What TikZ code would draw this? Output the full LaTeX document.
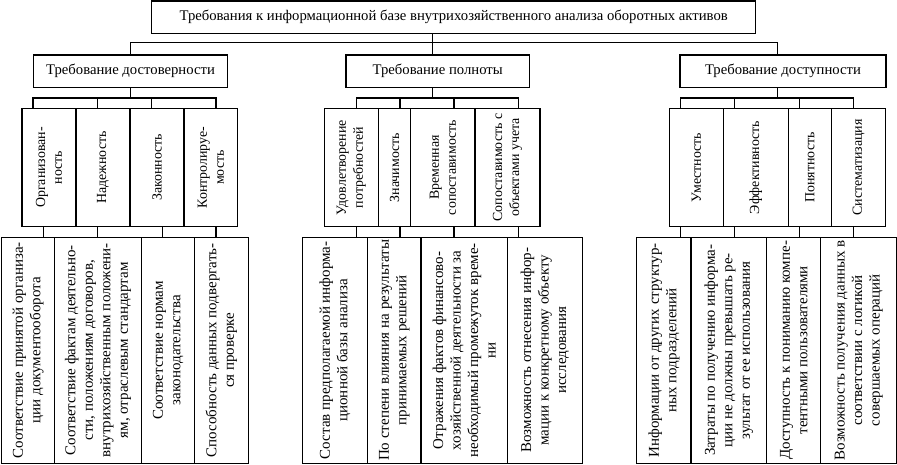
\documentclass[tikz,border=0pt]{standalone}
\usepackage{fontspec}
\setmainfont{Liberation Serif}
\usepackage{graphicx}
\newcommand{\vtext}[2]{\rotatebox{90}{\parbox{#1}{\centering #2}}}

\begin{document}
\begin{tikzpicture}[x=1pt, y=-1pt, font=\fontsize{14.7}{17.5}\selectfont,
    link/.style={line width=1.4pt},
    hbox/.style={draw, line width=1.4pt, inner sep=0pt, minimum height=32.3pt},
    midbox/.style={draw, line width=1.4pt, inner sep=0pt, minimum height=118.4pt,
                   font=\fontsize{13.9}{16.8}\selectfont},
    lowbox/.style={draw, line width=1.4pt, inner sep=0pt, minimum height=226pt,
                   font=\fontsize{15}{17.5}\selectfont}]
  \useasboundingbox (0,0) rectangle (897,465);

  \node[hbox, minimum width=604pt] (top) at (453.7,17.2)
    {Требования к информационной базе внутрихозяйственного анализа оборотных активов};
  \node[hbox, minimum width=194.4pt] (p1) at (130.5,71.2) {Требование достоверности};
  \node[hbox, minimum width=183.3pt] (p2) at (437.7,71.2) {Требование полноты};
  \node[hbox, minimum width=206pt] (p3) at (783,71.2) {Требование доступности};

  % second row of properties
  \node[midbox, minimum width=54pt] (o1) at (49,167.5) {\vtext{118pt}{Организован-\\ность}};
  \node[midbox, minimum width=54pt] (o2) at (103,167.5) {\vtext{118pt}{Надежность}};
  \node[midbox, minimum width=54pt] (o3) at (157,167.5) {\vtext{118pt}{Законность}};
  \node[midbox, minimum width=53.7pt] (o4) at (210.9,167.5) {\vtext{118pt}{Контролируе-\\мость}};
  \node[midbox, minimum width=54pt] (o5) at (351.3,167.5) {\vtext{118pt}{Удовлетворение\\потребностей}};
  \node[midbox, minimum width=32.4pt] (o6) at (394.5,167.5) {\vtext{118pt}{Значимость}};
  \node[midbox, minimum width=64.3pt] (o7) at (442.9,167.5) {\vtext{118pt}{Временная\\сопоставимость}};
  \node[midbox, minimum width=65pt] (o8) at (507.5,167.5) {\vtext{118pt}{Сопоставимость с\\объектами учета}};
  \node[midbox, minimum width=54pt] (o9) at (696.3,167.5) {\vtext{118pt}{Уместность}};
  \node[midbox, minimum width=65pt] (o10) at (755.8,167.5) {\vtext{118pt}{Эффективность}};
  \node[midbox, minimum width=43.4pt] (o11) at (810,167.5) {\vtext{118pt}{Понятность}};
  \node[midbox, minimum width=54pt] (o12) at (858.7,167.5) {\vtext{118pt}{Систематизация}};

  % bottom row
  \node[lowbox, minimum width=52.6pt] (d1) at (28,350.3)
    {\vtext{226pt}{Соответствие принятой организа-\\ции документооборота}};
  \node[lowbox, minimum width=87.4pt] (d2) at (98,350.3)
    {\vtext{226pt}{Соответствие фактам деятельно-\\сти, положениям договоров,\\внутрихозяйственным положени-\\ям, отраслевым стандартам}};
  \node[lowbox, minimum width=52.6pt] (d3) at (168,350.3)
    {\vtext{226pt}{Соответствие нормам\\законодательства}};
  \node[lowbox, minimum width=54pt] (d4) at (221.3,350.3)
    {\vtext{226pt}{Способность данных подвергать-\\ся проверке}};
  \node[lowbox, minimum width=65pt] (d5) at (334.8,350.3)
    {\vtext{226pt}{Состав предполагаемой информа-\\ционной базы анализа}};
  \node[lowbox, minimum width=53.7pt] (d6) at (394.2,350.3)
    {\vtext{226pt}{По степени влияния на результаты\\принимаемых решений}};
  \node[lowbox, minimum width=86.3pt] (d7) at (464.2,350.3)
    {\vtext{226pt}{Отражения фактов финансово-\\хозяйственной деятельности за\\необходимый промежуток време-\\ни}};
  \node[lowbox, minimum width=75pt] (d8) at (544.8,350.3)
    {\vtext{226pt}{Возможность отнесения инфор-\\мации к конкретному объекту\\исследования}};
  \node[lowbox, minimum width=54.3pt] (d9) at (663.9,350.3)
    {\vtext{226pt}{Информации от других структур-\\ных подразделений}};
  \node[lowbox, minimum width=75.7pt] (d10) at (728.9,350.3)
    {\vtext{226pt}{Затраты по получению информа-\\ции не должны превышать ре-\\зультат от ее использования}};
  \node[lowbox, minimum width=54pt] (d11) at (793.7,350.3)
    {\vtext{226pt}{Доступность к пониманию компе-\\тентными пользователями}};
  \node[lowbox, minimum width=76pt] (d12) at (858.7,350.3)
    {\vtext{226pt}{Возможность получения данных в\\соответствии с логикой\\совершаемых операций}};

  % top links
  \draw[link] ([xshift=-5pt]p2.north) -- ++(0,-11.7) coordinate (b0);
  \draw[link] (b0) -- ([xshift=-21pt]top.south);
  \draw[link] (p1.north) |- (b0) -| ([xshift=-5.3pt]p3.north);

  % buses under the three requirements
  \draw[link] (p1.south) -- ++(0,10) coordinate (b1);
  \draw[link] ([xshift=-16pt]o1.north) |- (b1) -| ([xshift=5.1pt]o4.north);
  \draw[link] ([xshift=-5.3pt]o2.north) -- ++(0,-11);
  \draw[link] ([xshift=-5.3pt]o3.north) -- ++(0,-11);
  \draw[link] ([xshift=-5pt]p2.south) -- ++(0,10) coordinate (b2);
  \draw[link] ([xshift=5.4pt]o5.north) |- (b2) -| ([xshift=10.8pt]o8.north);
  \draw[link] ([xshift=5.5pt]o6.north) -- ++(0,-11);
  \draw[link] ([xshift=11.1pt]o7.north) -- ++(0,-11);
  \draw[link] ([xshift=-5.3pt]p3.south) -- ++(0,10) coordinate (b3);
  \draw[link] ([xshift=-15.6pt]o9.north) |- (b3) -| ([xshift=-5.4pt]o12.north);
  \draw[link] ([xshift=-21.1pt]o10.north) -- ++(0,-11);
  \draw[link] ([xshift=-10.7pt]o11.north) -- ++(0,-11);

  % property to content
  \draw[link] ([xshift=-5.7pt]o1.south) -- ([xshift=15.3pt]d1.north);
  \draw[link] ([xshift=-5.3pt]o2.south) -- ([xshift=-0.3pt]d2.north);
  \draw[link] ([xshift=5.3pt]o3.south) -- ([xshift=-5.7pt]d3.north);
  \draw[link] ([xshift=5.1pt]o4.south) -- ([xshift=-5.3pt]d4.north);
  \draw[link] ([xshift=5.4pt]o5.south) -- ([xshift=21.9pt]d5.north);
  \draw[link] ([xshift=5.5pt]o6.south) -- ([xshift=5.8pt]d6.north);
  \draw[link] ([xshift=11.1pt]o7.south) -- ([xshift=-10.2pt]d7.north);
  \draw[link] ([xshift=10.8pt]o8.south) -- ([xshift=-26.5pt]d8.north);
  \draw[link] ([xshift=-15.6pt]o9.south) -- ([xshift=16.8pt]d9.north);
  \draw[link] ([xshift=-21.1pt]o10.south) -- ([xshift=5.8pt]d10.north);
  \draw[link] ([xshift=-10.7pt]o11.south) -- ([xshift=5.6pt]d11.north);
  \draw[link] ([xshift=-5.4pt]o12.south) -- ([xshift=-5.4pt]d12.north);
\end{tikzpicture}
\end{document}
